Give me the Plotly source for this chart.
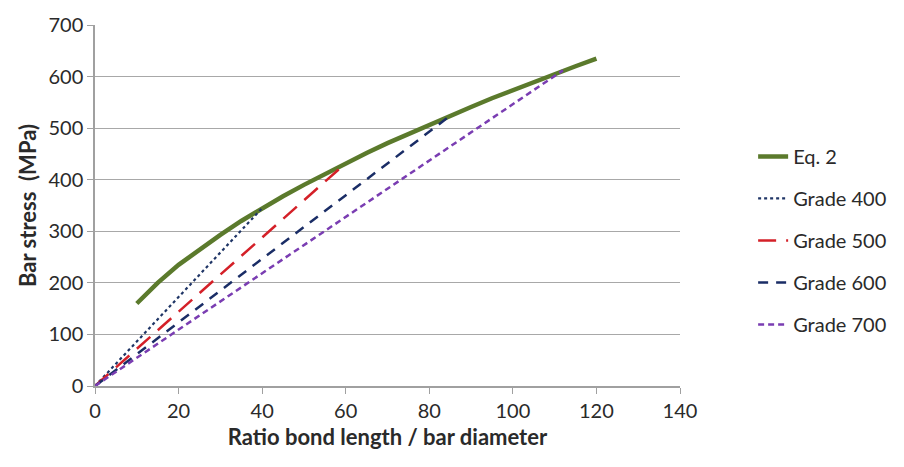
import plotly.graph_objects as go

# Eq. 2 curve
eq2_x = [10, 15, 20, 25, 30, 35, 40, 45, 50, 55, 60, 65, 70, 75, 80, 85, 90, 95, 100, 105, 110, 115, 120]
eq2_y = [160, 200, 235, 265, 293, 320, 345, 368, 390, 411, 432, 452, 471, 489, 507, 524, 541, 558, 574, 590, 605, 620, 635]

# Grade lines (start/end points)
g400_x = [0, 40]
g400_y = [0, 345]
g500_x = [0, 60]
g500_y = [0, 432]
g600_x = [0, 85]
g600_y = [0, 524]
g700_x = [0, 112]
g700_y = [0, 612]

x_ticks = [0, 20, 40, 60, 80, 100, 120, 140]
y_ticks = [0, 100, 200, 300, 400, 500, 600, 700]

FONT = "Lato, 'Open Sans', sans-serif"

fig = go.Figure()
series = [
    ("Eq. 2", eq2_x, eq2_y, "#5b7a2c", 4.5, "solid"),
    ("Grade 400", g400_x, g400_y, "#1f3566", 2.2, "dot"),
    ("Grade 500", g500_x, g500_y, "#d42028", 2.5, "18px,10px"),
    ("Grade 600", g600_x, g600_y, "#1a2d66", 2.5, "10px,8px"),
    ("Grade 700", g700_x, g700_y, "#7a3db2", 2.5, "6px,4px"),
]
for i, (name, xs, ys, color, w, dash) in enumerate(series):
    fig.add_trace(go.Scatter(x=xs, y=ys, mode="lines", name=name,
                             legendgroup=str(i),
                             line=dict(color=color, width=w, dash=dash)))

fig.update_layout(
    width=904, height=467,
    margin=dict(l=95, r=224, t=17, b=81),
    paper_bgcolor="white", plot_bgcolor="white",
    font=dict(family=FONT, size=20, color="#2a2a2a"),
    showlegend=True,
    legend=dict(x=1.125, y=0.69, xanchor="left", yanchor="top",
                traceorder="grouped", tracegroupgap=13,
                font=dict(size=20, color="#2a2a2a")),
    xaxis=dict(range=[0, 140], tickvals=x_ticks, ticks="outside", ticklen=6,
               tickcolor="#a0a0a0", showline=True, linecolor="#a0a0a0", linewidth=1.5,
               showgrid=False, zeroline=False,
               tickfont=dict(size=20),
               title=dict(text="<b>Ratio bond length / bar diameter</b>", font=dict(size=22), standoff=9)),
    yaxis=dict(range=[0, 700], tickvals=y_ticks, ticks="outside", ticklen=6,
               tickcolor="#a0a0a0", showline=True, linecolor="#a0a0a0", linewidth=1.5,
               showgrid=True, gridcolor="#a8a8a8", gridwidth=1.2, zeroline=False,
               tickfont=dict(size=20),
               title=dict(text="<b>Bar stress  (MPa)</b>", font=dict(size=22), standoff=6)),
)

fig.write_html("out.html")
